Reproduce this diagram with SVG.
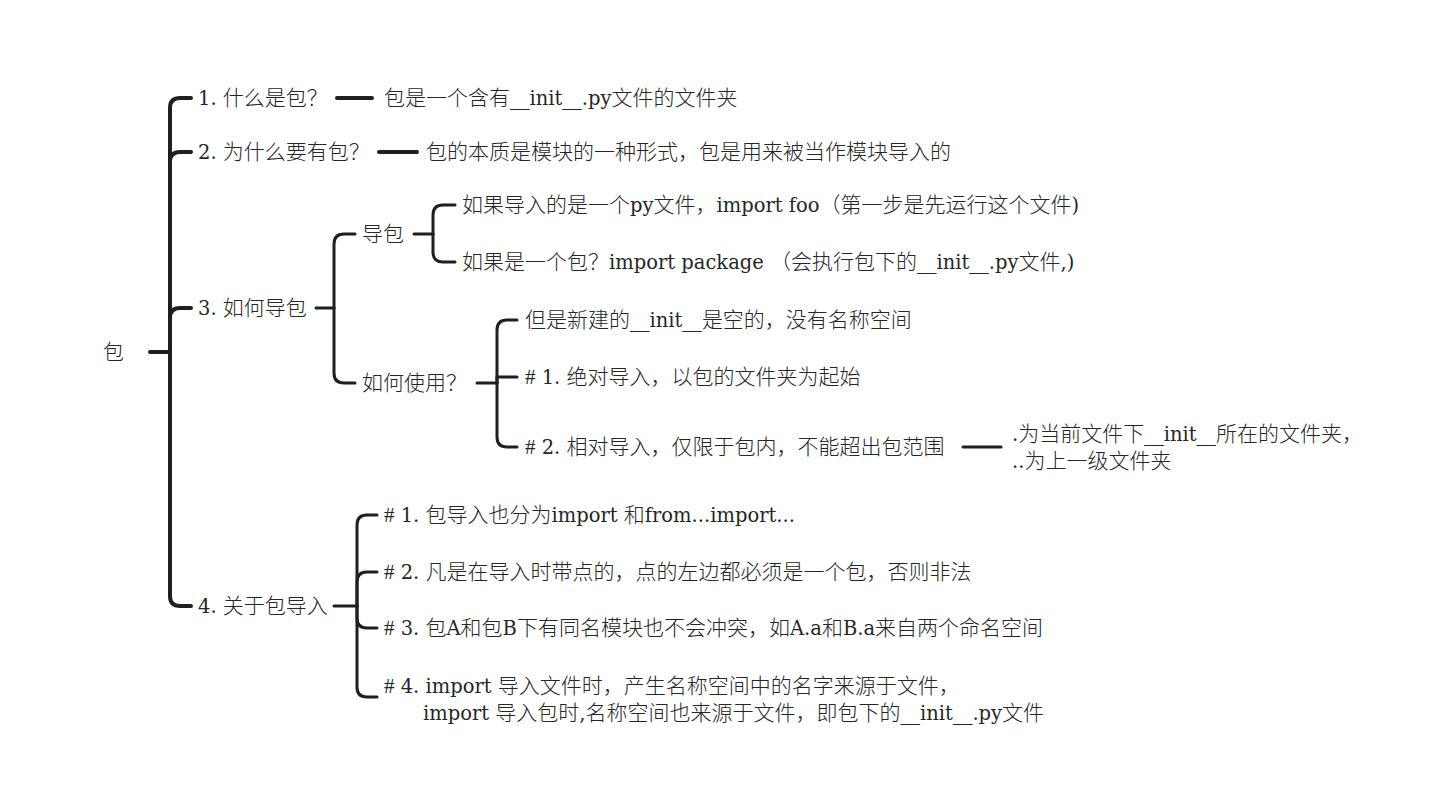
<svg xmlns="http://www.w3.org/2000/svg" width="1447" height="810" viewBox="0 0 1447 810">
<style>
text{font-family:"DejaVu Serif","Noto Sans CJK SC",serif;font-size:21px;fill:#262626;font-weight:300}
.l{font-size:19.5px;font-weight:400}
.h{font-family:"Liberation Serif",serif;font-size:21px;font-weight:400}
.c1{fill:none;stroke:#1f1f1f;stroke-width:4;stroke-linecap:round}
.c2{fill:none;stroke:#1f1f1f;stroke-width:3;stroke-linecap:round}
</style>
<rect width="1447" height="810" fill="#fff"/>
<g id="connectors">
<path class="c1" d="M150,352 H170"/>
<path class="c1" d="M170,352 V108 Q170,98 180,98 H191"/>
<path class="c1" d="M170,352 V162 Q170,152 180,152 H191"/>
<path class="c1" d="M170,352 V318 Q170,308 180,308 H191"/>
<path class="c1" d="M170,352 V596 Q170,606 180,606 H191"/>
<path class="c1" d="M337,98 H372"/>
<path class="c1" d="M379,152 H417"/>
<path class="c2" d="M316,308 H334"/>
<path class="c2" d="M334,308 V244 Q334,234 344,234 H355"/>
<path class="c2" d="M334,308 V373 Q334,383 344,383 H355"/>
<path class="c2" d="M414,234 H433"/>
<path class="c2" d="M433,234 V215 Q433,205 443,205 H455"/>
<path class="c2" d="M433,234 V252 Q433,262 443,262 H455"/>
<path class="c2" d="M477,383 H497"/>
<path class="c2" d="M497,383 V330 Q497,320 507,320 H517"/>
<path class="c2" d="M497,383 V377 H517"/>
<path class="c2" d="M497,383 V437 Q497,447 507,447 H517"/>
<path class="c2" d="M963,447 H1001"/>
<path class="c2" d="M334,606 H357"/>
<path class="c2" d="M357,606 V525 Q357,515 367,515 H377"/>
<path class="c2" d="M357,606 V582 Q357,572 367,572 H377"/>
<path class="c2" d="M357,606 V618 Q357,628 367,628 H377"/>
<path class="c2" d="M357,606 V687 Q357,697 367,697 H377"/>
</g>
<g id="root"><text x="103" y="359">包</text></g>
<g id="n1"><text x="198" y="105"><tspan class="l">1. </tspan>什么是包？</text></g>
<g id="n1a"><text x="384" y="105">包是一个含有<tspan class="l">__init__.py</tspan>文件的文件夹</text></g>
<g id="n2"><text x="198" y="159"><tspan class="l">2. </tspan>为什么要有包？</text></g>
<g id="n2a"><text x="426" y="159">包的本质是模块的一种形式，包是用来被当作模块导入的</text></g>
<g id="n3"><text x="198" y="315"><tspan class="l">3. </tspan>如何导包</text></g>
<g id="n3a"><text x="362" y="241">导包</text></g>
<g id="n3a1"><text x="462" y="212">如果导入的是一个<tspan class="l">py</tspan>文件，<tspan class="l">import foo</tspan>（第一步是先运行这个文件<tspan class="l">)</tspan></text></g>
<g id="n3a2"><text x="462" y="269">如果是一个包？<tspan class="l">import package </tspan>（会执行包下的<tspan class="l">__init__.py</tspan>文件<tspan class="l">,)</tspan></text></g>
<g id="n3b"><text x="362" y="390">如何使用？</text></g>
<g id="n3b1"><text x="525" y="327">但是新建的<tspan class="l">__init__</tspan>是空的，没有名称空间</text></g>
<g id="n3b2"><text x="525" y="384"><tspan class="h">#</tspan><tspan class="l"> 1. </tspan>绝对导入，以包的文件夹为起始</text></g>
<g id="n3b3"><text x="525" y="454"><tspan class="h">#</tspan><tspan class="l"> 2. </tspan>相对导入，仅限于包内，不能超出包范围</text></g>
<g id="n3b3a"><text x="1012" y="441"><tspan class="l">.</tspan>为当前文件下<tspan class="l">__init__</tspan>所在的文件夹，</text><text x="1012" y="468"><tspan class="l">..</tspan>为上一级文件夹</text></g>
<g id="n4"><text x="198" y="613"><tspan class="l">4. </tspan>关于包导入</text></g>
<g id="n4a"><text x="384" y="522"><tspan class="h">#</tspan><tspan class="l"> 1. </tspan>包导入也分为<tspan class="l">import </tspan>和<tspan class="l">from...import...</tspan></text></g>
<g id="n4b"><text x="384" y="579"><tspan class="h">#</tspan><tspan class="l"> 2. </tspan>凡是在导入时带点的，点的左边都必须是一个包，否则非法</text></g>
<g id="n4c"><text x="384" y="635"><tspan class="h">#</tspan><tspan class="l"> 3. </tspan>包<tspan class="l">A</tspan>和包<tspan class="l">B</tspan>下有同名模块也不会冲突，如<tspan class="l">A.a</tspan>和<tspan class="l">B.a</tspan>来自两个命名空间</text></g>
<g id="n4d"><text x="384" y="693"><tspan class="h">#</tspan><tspan class="l"> 4. import </tspan>导入文件时，产生名称空间中的名字来源于文件，</text><text x="423" y="720"><tspan class="l">import </tspan>导入包时<tspan class="l">,</tspan>名称空间也来源于文件，即包下的<tspan class="l">__init__.py</tspan>文件</text></g>
</svg>
